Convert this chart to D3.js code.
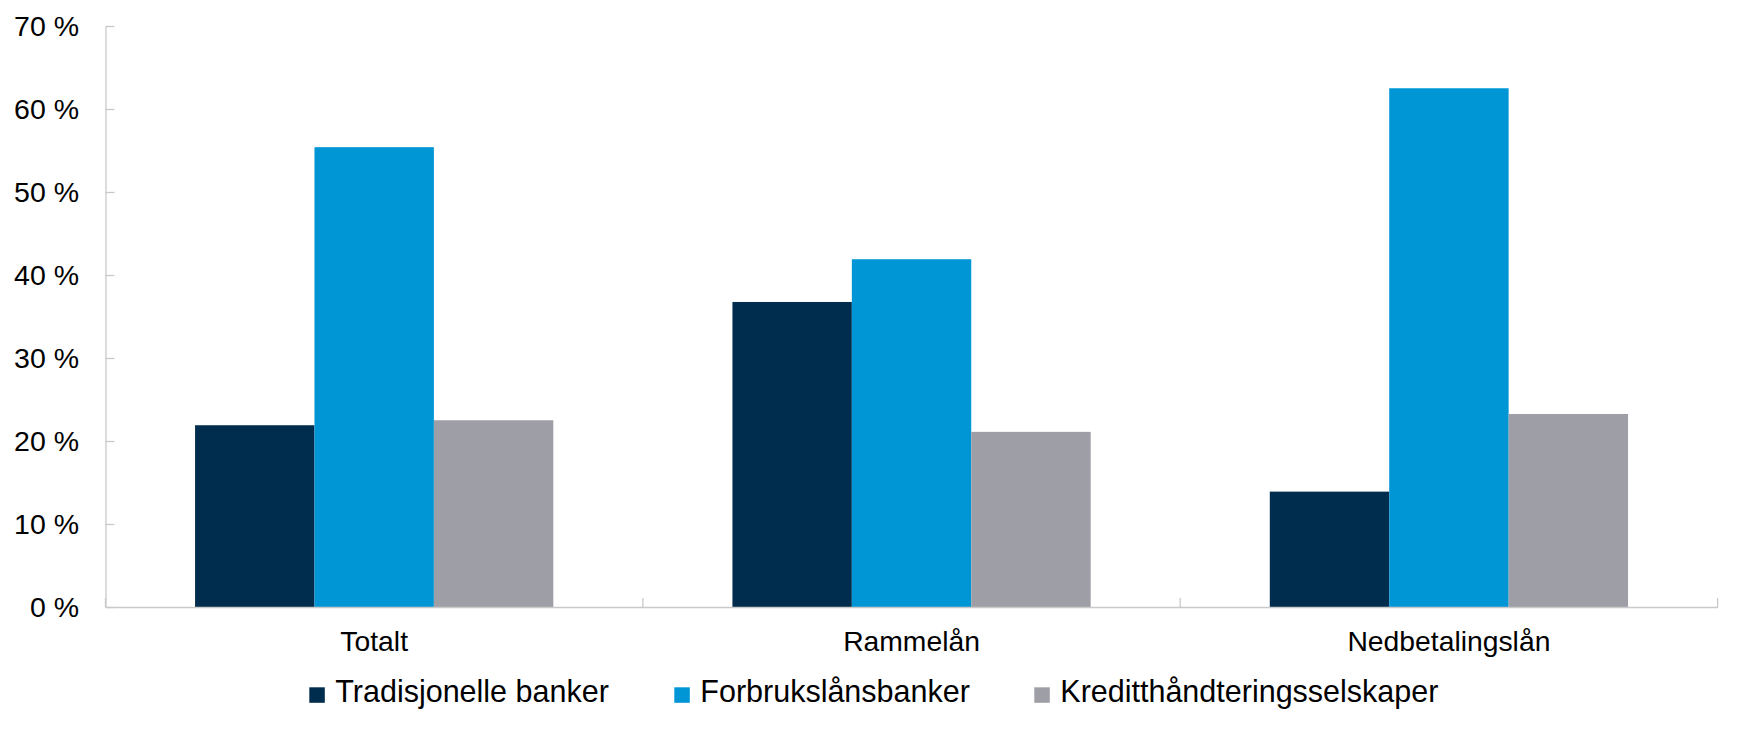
<!DOCTYPE html>
<html>
<head>
<meta charset="utf-8">
<script src="https://cdn.jsdelivr.net/npm/d3@7"></script>
<style>
  html, body { margin: 0; padding: 0; background: #ffffff; }
  svg { display: block; }
  text { font-family: "Liberation Sans", Arial, sans-serif; fill: #000; }
</style>
</head>
<body>
<svg id="chart" width="1741" height="731"></svg>
<script>
// ---- data ----
const categories = ["Totalt", "Rammelån", "Nedbetalingslån"];
const seriesNames = ["Tradisjonelle banker", "Forbrukslånsbanker", "Kreditthåndteringsselskaper"];
const tradisjonelle = [21.9, 36.75, 13.9];
const forbrukslan = [55.4, 41.9, 62.5];
const kreditt = [22.5, 21.1, 23.25];
const yTicks = [0, 10, 20, 30, 40, 50, 60, 70];
const colors = ["#002d4d", "#0096d6", "#9e9ea6"];

const seriesValues = [tradisjonelle, forbrukslan, kreditt];

// ---- layout ----
const svg = d3.select("#chart");
const plotLeft = 105.5, plotRight = 1717.6, plotTop = 26, plotBottom = 607;

const x = d3.scaleBand().domain(categories).range([plotLeft, plotRight]).paddingInner(0).paddingOuter(0);
const bw = x.bandwidth();
// Excel-style: gap of 1.5 bar widths shared by both sides -> bar width = band/4.5
const x1 = d3.scaleBand().domain(seriesNames)
  .range([bw * 0.75 / 4.5, bw - bw * 0.75 / 4.5]).paddingInner(0).paddingOuter(0);

const y = d3.scaleLinear().domain([0, 70]).range([plotBottom, plotTop]);

const axisColor = "#c9c9c9";

// bars
const g = svg.append("g");
categories.forEach((cat, ci) => {
  seriesNames.forEach((s, si) => {
    const v = seriesValues[si][ci];
    g.append("rect")
      .attr("x", x(cat) + x1(s))
      .attr("y", y(v))
      .attr("width", x1.bandwidth())
      .attr("height", y(0) - y(v))
      .attr("fill", colors[si]);
  });
});

// y axis
const yAxis = d3.axisRight(y).tickValues(yTicks).tickSize(9).tickSizeOuter(0).tickFormat("");
const yg = svg.append("g").attr("transform", `translate(${plotLeft},0)`).call(yAxis);
yg.select(".domain").attr("stroke", axisColor).attr("stroke-width", 1.3);
yg.selectAll(".tick line").attr("stroke", axisColor).attr("stroke-width", 1.3);

svg.append("g").selectAll("text").data(yTicks).join("text")
  .attr("x", 79)
  .attr("y", d => y(d))
  .attr("dy", "0.36em")
  .attr("text-anchor", "end")
  .style("font-size", "28.5px")
  .text(d => d + " %");

// x axis
const xAxis = d3.axisTop(x).tickSize(0).tickSizeOuter(0).tickFormat("");
const xg = svg.append("g").attr("transform", `translate(0,${plotBottom})`).call(xAxis);
xg.select(".domain").attr("stroke", axisColor).attr("stroke-width", 1.3);
// category separators
const seps = categories.map(c => x(c)).concat([plotRight]);
svg.append("g").selectAll("line").data(seps).join("line")
  .attr("x1", d => d).attr("x2", d => d)
  .attr("y1", plotBottom).attr("y2", plotBottom - 9)
  .attr("stroke", axisColor).attr("stroke-width", 1.3);

// category labels
svg.append("g").selectAll("text").data(categories).join("text")
  .attr("x", d => x(d) + bw / 2)
  .attr("y", 650.7)
  .attr("text-anchor", "middle")
  .style("font-size", "28.3px")
  .text(d => d);

// legend
const legendX = [309.3, 674.3, 1034.3];
const lg = svg.append("g");
seriesNames.forEach((s, i) => {
  lg.append("rect")
    .attr("x", legendX[i]).attr("y", 687.3)
    .attr("width", 15.5).attr("height", 15.5)
    .attr("fill", colors[i]);
  lg.append("text")
    .attr("x", legendX[i] + 26)
    .attr("y", 701.7)
    .style("font-size", "30.5px")
    .text(s);
});
</script>
</body>
</html>
